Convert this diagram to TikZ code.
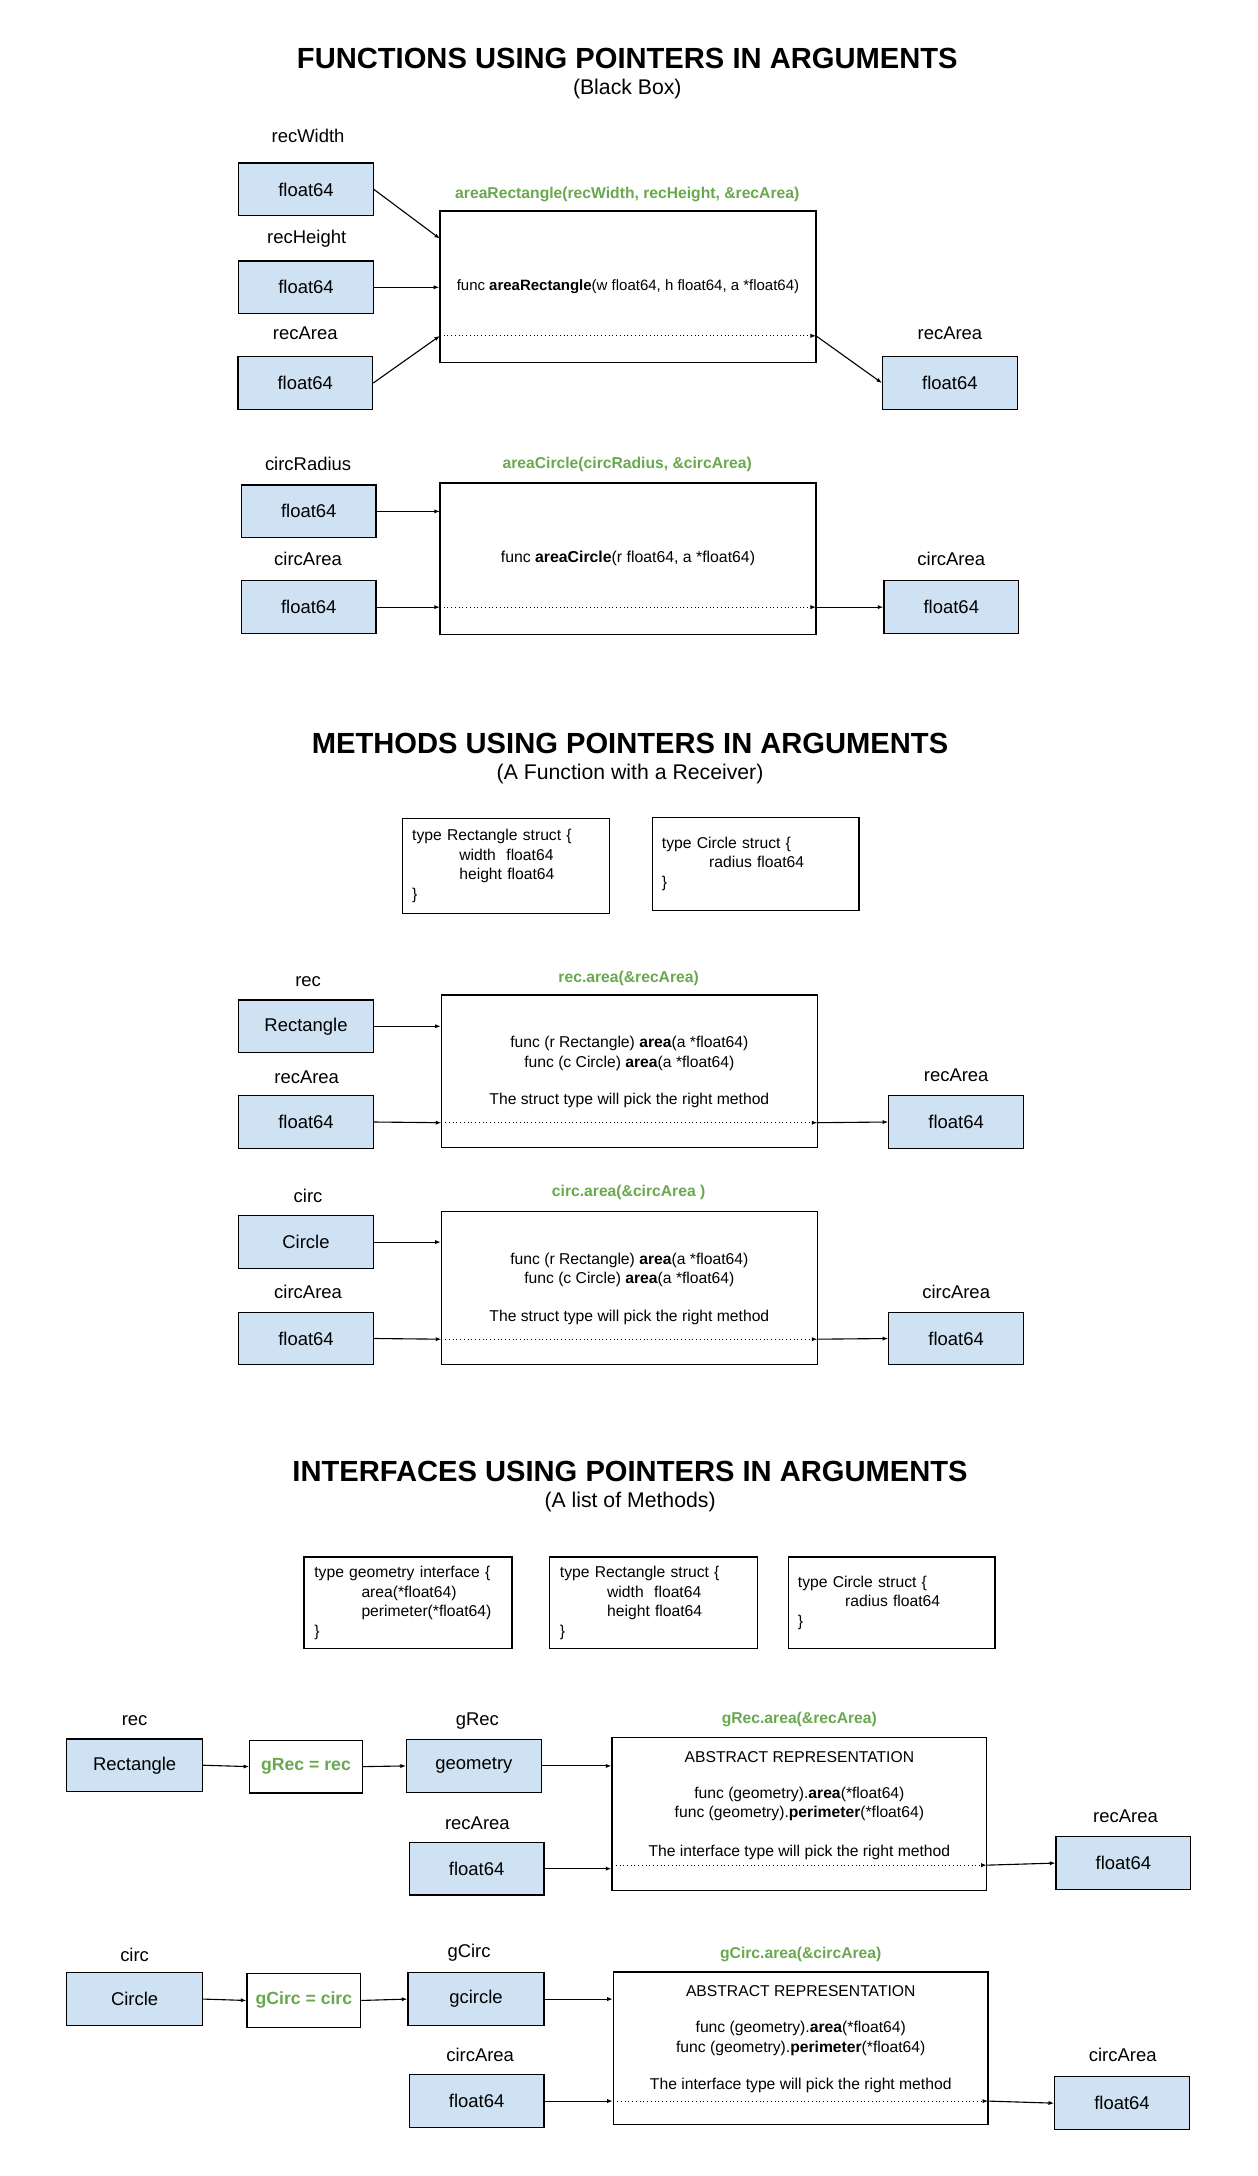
\documentclass[tikz,border=0pt]{standalone}
\usepackage{fontspec}
\setmainfont{Liberation Sans}
\usetikzlibrary{arrows.meta}
\definecolor{boxblue}{HTML}{CFE2F3}
\definecolor{callgreen}{HTML}{6AA84F}
\tikzset{
  valbox/.style={draw, line width=0.9pt, fill=boxblue, minimum width=97pt,
    minimum height=38pt, inner sep=0pt, font=\fontsize{13.3}{16}\selectfont},
  funcbox/.style={draw, line width=0.9pt, minimum width=271pt,
    minimum height=110pt, inner sep=0pt},
  structbox/.style={draw, line width=0.9pt, minimum width=149pt,
    minimum height=67pt, text width=135pt, align=left, inner sep=0pt,
    font=\fontsize{11.3}{14}\selectfont},
  lbl/.style={font=\fontsize{13.3}{16}\selectfont},
  call/.style={text=callgreen, font=\bfseries\fontsize{11.3}{14}\selectfont},
  functext/.style={font=\fontsize{11.3}{14}\selectfont},
  title/.style={font=\bfseries\fontsize{21}{25}\selectfont},
  subtitle/.style={font=\fontsize{15.3}{18}\selectfont},
  arr/.style={line width=0.8pt, -{Latex[length=4pt,width=3pt]}},
  ptr/.style={line width=0.7pt, dotted, -{Latex[length=4pt,width=3pt]}},
}
\newcommand{\ind}{\hspace*{34pt}}
\begin{document}
\begin{tikzpicture}[x=1pt,y=-1pt]
  \fill[white] (0,0) rectangle (906,1568);
  \useasboundingbox (0,0) rectangle (906,1568);

  % functions
  \node[title] (t1) at (452,42) {FUNCTIONS USING POINTERS IN ARGUMENTS};
  \node[subtitle] (s1) at (452,64) {(Black Box)};

  \node[lbl] (lw) at (222,98) {recWidth};
  \node[valbox] (w) at (220.5,136.5) {float64};
  \node[lbl] (lh) at (221,172) {recHeight};
  \node[valbox] (h) at (220.5,207) {float64};
  \node[lbl] (la) at (220,240) {recArea};
  \node[valbox] (a) at (220,276) {float64};
  \node[call] (cr) at (452,140) {areaRectangle(recWidth, recHeight, \&recArea)};
  \node[funcbox, minimum height=109pt, functext, font=\fontsize{10.8}{13}\selectfont]
    (fr) at (452.5,206.5) {func \textbf{areaRectangle}(w float64, h float64, a *float64)};
  \node[lbl] (lao) at (684.5,240) {recArea};
  \node[valbox] (ao) at (684.5,276) {float64};
  \coordinate (fr1) at (317,172);
  \coordinate (fr3) at (317,242);
  \coordinate (fr4) at (588,242);
  \draw[arr] (w.east) -- (fr1);
  \draw[arr] (h.east) -- (h.east -| fr.west);
  \draw[arr] (a.east) -- (fr3);
  \draw[ptr] (fr3) -- (fr4);
  \draw[arr] (fr4) -- (ao.west);

  \node[lbl] (lr) at (222,334) {circRadius};
  \node[valbox] (r) at (222.5,368.5) {float64};
  \node[lbl] (lc) at (222,403) {circArea};
  \node[valbox] (c) at (222.5,437.5) {float64};
  \node[call] (cc) at (452,335) {areaCircle(circRadius, \&circArea)};
  \node[funcbox, minimum height=109pt, functext, font=\fontsize{11.4}{13}\selectfont]
    (fc) at (452.5,402.5) {func \textbf{areaCircle}(r float64, a *float64)};
  \node[lbl] (lco) at (685.5,403) {circArea};
  \node[valbox] (co) at (685.5,437.5) {float64};
  \coordinate (fc1) at (317,368.5);
  \coordinate (fc2) at (317,437.5);
  \coordinate (fc3) at (588,437.5);
  \draw[arr] (r.east) -- (fc1);
  \draw[arr] (c.east) -- (fc2);
  \draw[ptr] (fc2) -- (fc3);
  \draw[arr] (fc3) -- (co.west);

  % methods
  \node[title] (t2) at (454,536) {METHODS USING POINTERS IN ARGUMENTS};
  \node[subtitle] (s2) at (454,558) {(A Function with a Receiver)};
  \node[structbox, minimum height=68pt] (sr) at (364.5,624)
    {type Rectangle struct \{\\ \ind width\ \ float64\\ \ind height float64\\ \}};
  \node[structbox] (sc) at (544.5,622.5)
    {type Circle struct \{\\ \ind radius float64\\ \}};

  \node[lbl] (lmr) at (222,707) {rec};
  \node[valbox] (mr) at (220.5,739.5) {Rectangle};
  \node[lbl] (lma) at (221,776) {recArea};
  \node[valbox] (ma) at (220.5,808.5) {float64};
  \node[call] (cm1) at (453,705) {rec.area(\&recArea)};
  \node[funcbox] (fm1) at (453.5,772) {};
  \node[functext] (m1a) at (453.5,752) {func (r Rectangle) \textbf{area}(a *float64)};
  \node[functext] (m1b) at (453.5,766) {func (c Circle) \textbf{area}(a *float64)};
  \node[functext] (m1c) at (453.5,793) {The struct type will pick the right method};
  \node[lbl] (lmo) at (689,775) {recArea};
  \node[valbox] (mo) at (689,808.5) {float64};
  \coordinate (fm11) at (318,809);
  \coordinate (fm12) at (589,809);
  \draw[arr] (mr.east) -- (mr.east -| fm1.west);
  \draw[arr] (ma.east) -- (fm11);
  \draw[ptr] (fm11) -- (fm12);
  \draw[arr] (fm12) -- (mo.west);

  \node[lbl] (lnc) at (222,862) {circ};
  \node[valbox] (nc) at (220.5,895) {Circle};
  \node[lbl] (lna) at (222,931) {circArea};
  \node[valbox] (na) at (220.5,964.5) {float64};
  \node[call] (cm2) at (453,859) {circ.area(\&circArea )};
  \node[funcbox] (fm2) at (453.5,928) {};
  \node[functext] (m2a) at (453.5,908) {func (r Rectangle) \textbf{area}(a *float64)};
  \node[functext] (m2b) at (453.5,922) {func (c Circle) \textbf{area}(a *float64)};
  \node[functext] (m2c) at (453.5,949) {The struct type will pick the right method};
  \node[lbl] (lno) at (689,931) {circArea};
  \node[valbox] (no) at (689,964.5) {float64};
  \coordinate (fm21) at (318,965);
  \coordinate (fm22) at (589,965);
  \draw[arr] (nc.east) -- (nc.east -| fm2.west);
  \draw[arr] (na.east) -- (fm21);
  \draw[ptr] (fm21) -- (fm22);
  \draw[arr] (fm22) -- (no.west);

  % interfaces
  \node[title] (t3) at (454,1060) {INTERFACES USING POINTERS IN ARGUMENTS};
  \node[subtitle] (s3) at (454,1082) {(A list of Methods)};
  \node[structbox, minimum width=150pt, minimum height=66pt] (ig) at (294,1155)
    {type geometry interface \{\\ \ind area(*float64)\\ \ind perimeter(*float64)\\ \}};
  \node[structbox, minimum width=150pt, minimum height=66pt] (ir) at (471,1155)
    {type Rectangle struct \{\\ \ind width\ \ float64\\ \ind height float64\\ \}};
  \node[structbox, minimum height=66pt] (ic) at (642.5,1155)
    {type Circle struct \{\\ \ind radius float64\\ \}};

  \node[lbl] (lir) at (97,1240) {rec};
  \node[valbox, minimum width=98pt] (xr) at (97,1272) {Rectangle};
  \node[draw, line width=0.9pt, minimum width=81pt, minimum height=38pt, inner sep=0pt,
    call, font=\bfseries\fontsize{12.7}{15}\selectfont] (gr) at (220.5,1273) {gRec = rec};
  \node[lbl] (lgr) at (344,1240) {gRec};
  \node[valbox] (xg) at (341.5,1272.5) {geometry};
  \node[lbl] (lxa) at (344,1314) {recArea};
  \node[valbox] (xa) at (343.5,1346.5) {float64};
  \node[call] (ci1) at (576,1239) {gRec.area(\&recArea)};
  \node[funcbox, minimum width=270pt] (fi1) at (576,1307) {};
  \node[functext] (i1a) at (576,1266) {ABSTRACT REPRESENTATION};
  \node[functext] (i1b) at (576,1293) {func (geometry).\textbf{area}(*float64)};
  \node[functext] (i1c) at (576,1307) {func (geometry).\textbf{perimeter}(*float64)};
  \node[functext] (i1d) at (576,1335) {The interface type will pick the right method};
  \node[lbl] (lxo) at (811,1309) {recArea};
  \node[valbox] (xo) at (809.5,1342.5) {float64};
  \coordinate (fi11) at (441,1344);
  \coordinate (fi12) at (711,1344);
  \draw[arr] (xr.east) -- (gr.west);
  \draw[arr] (gr.east) -- (xg.west);
  \draw[arr] (xg.east) -- (xg.east -| fi1.west);
  \draw[arr] (xa.east) -- (xa.east -| fi1.west);
  \draw[ptr] (fi11) -- (fi12);
  \draw[arr] (fi12) -- (xo.west);

  \node[lbl] (lyc) at (97,1409) {circ};
  \node[valbox, minimum width=98pt] (yc) at (97,1440.5) {Circle};
  \node[draw, line width=0.9pt, minimum width=82pt, minimum height=39pt, inner sep=0pt,
    call, font=\bfseries\fontsize{12.7}{15}\selectfont] (gc) at (219,1441.5) {gCirc = circ};
  \node[lbl] (lgc) at (338,1407) {gCirc};
  \node[valbox, minimum width=98pt] (yg) at (343,1440.5) {gcircle};
  \node[lbl] (lya) at (346,1481) {circArea};
  \node[valbox] (ya) at (343.5,1514) {float64};
  \node[call] (ci2) at (577,1408) {gCirc.area(\&circArea)};
  \node[funcbox, minimum width=270pt] (fi2) at (577,1476) {};
  \node[functext] (i2a) at (577,1435) {ABSTRACT REPRESENTATION};
  \node[functext] (i2b) at (577,1462) {func (geometry).\textbf{area}(*float64)};
  \node[functext] (i2c) at (577,1476) {func (geometry).\textbf{perimeter}(*float64)};
  \node[functext] (i2d) at (577,1503) {The interface type will pick the right method};
  \node[lbl] (lyo) at (809,1481) {circArea};
  \node[valbox] (yo) at (808.5,1515.5) {float64};
  \coordinate (fi21) at (442,1514);
  \coordinate (fi22) at (712,1514);
  \draw[arr] (yc.east) -- (gc.west);
  \draw[arr] (gc.east) -- (yg.west);
  \draw[arr] (yg.east) -- (yg.east -| fi2.west);
  \draw[arr] (ya.east) -- (ya.east -| fi2.west);
  \draw[ptr] (fi21) -- (fi22);
  \draw[arr] (fi22) -- (yo.west);
\end{tikzpicture}
\end{document}
